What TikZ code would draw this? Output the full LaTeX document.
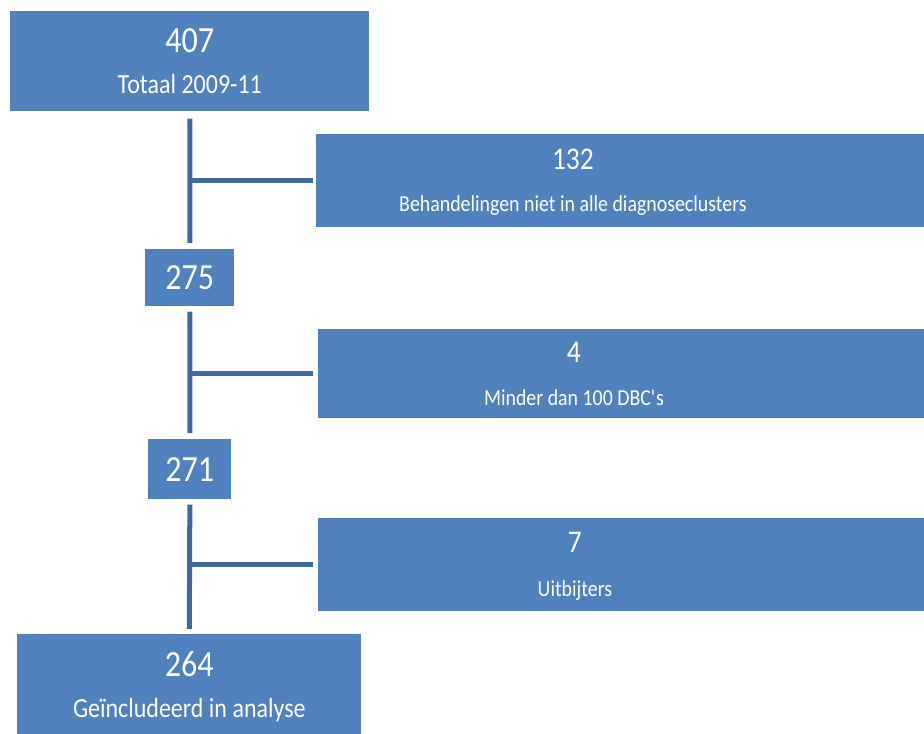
\documentclass[tikz,border=0pt]{standalone}
\usepackage{fontspec}
\setmainfont{Carlito}[FakeStretch=0.87]
\usepackage{tikz}

\begin{document}
\begin{tikzpicture}[x=0.02cm, y=-0.02cm,
    blok/.style={rectangle, fill=Blok, draw=none, inner sep=0, anchor=north west},
    getal/.style={text=white, font=\fontsize{18}{20}\selectfont, anchor=base, inner sep=0},
    grootgetal/.style={getal, font=\fontsize{21}{24}\selectfont},
    tekst/.style={text=white, font=\fontsize{13}{15}\selectfont, anchor=base, inner sep=0},
    groottekst/.style={tekst, font=\fontsize{15.7}{18}\selectfont},
    lijn/.style={draw=Lijn, line width=0.1cm}]
    \definecolor{Blok}{RGB}{79,129,189}
    \definecolor{Lijn}{RGB}{63,104,160}
    \useasboundingbox (0,0) rectangle (924,734);
    % hoofdlijn
    \node[blok, minimum width=7.18cm, minimum height=2.0cm] (totaal) at (10,11) {};
    \node[grootgetal] (totaal-n) at ([yshift=-0.83cm]totaal.north) {407};
    \node[groottekst] (totaal-t) at ([yshift=-1.65cm]totaal.north) {Totaal 2009-11};
    \node[blok, minimum width=1.78cm, minimum height=1.14cm] (n275) at (145,249) {};
    \node[grootgetal, anchor=center] (n275-n) at (n275.center) {275};
    \node[blok, minimum width=1.66cm, minimum height=1.2cm] (n271) at (148,439) {};
    \node[grootgetal, anchor=center] (n271-n) at (n271.center) {271};
    \node[blok, minimum width=6.88cm, minimum height=2.0cm] (geincl) at (17,634) {};
    \node[grootgetal] (geincl-n) at ([yshift=-0.86cm]geincl.north) {264};
    \node[groottekst] (geincl-t) at ([yshift=-1.68cm]geincl.north) {Geïncludeerd in analyse};
    % uitvallers
    \node[blok, minimum width=12.16cm, minimum height=1.86cm] (clusters) at (316,134) {};
    \node[getal] (clusters-n) at ([xshift=5.14cm, yshift=-0.72cm]clusters.north west) {132};
    \node[tekst] (clusters-t) at ([xshift=5.14cm, yshift=-1.56cm]clusters.north west) {Behandelingen niet in alle diagnoseclusters};
    \node[blok, minimum width=12.12cm, minimum height=1.78cm] (dbc) at (318,329) {};
    \node[getal] (dbc-n) at ([xshift=5.12cm, yshift=-0.68cm]dbc.north west) {4};
    \node[tekst] (dbc-t) at ([xshift=5.12cm, yshift=-1.54cm]dbc.north west) {Minder dan 100 DBC\textquotesingle s};
    \node[blok, minimum width=12.12cm, minimum height=1.86cm] (uitbijters) at (318,518) {};
    \node[getal] (uitbijters-n) at ([xshift=5.14cm, yshift=-0.70cm]uitbijters.north west) {7};
    \node[tekst] (uitbijters-t) at ([xshift=5.14cm, yshift=-1.58cm]uitbijters.north west) {Uitbijters};
    % verbindingen
    \draw[lijn] ([yshift=-0.14cm]totaal.south) -- ([yshift=0.12cm]n275.north);
    \draw[lijn] ([yshift=-0.1cm]n275.south) -- ([yshift=0.12cm]n271.north);
    \draw[lijn] ([yshift=-0.1cm]n271.south) -- ([yshift=0.1cm]geincl.north);
    \draw[lijn] (clusters.west -| totaal.south) -- ([xshift=-0.06cm]clusters.west);
    \draw[lijn] (dbc.west -| n275.south) -- ([xshift=-0.1cm]dbc.west);
    \draw[lijn] (uitbijters.west -| n271.south) -- ([xshift=-0.1cm]uitbijters.west);
\end{tikzpicture}
\end{document}
